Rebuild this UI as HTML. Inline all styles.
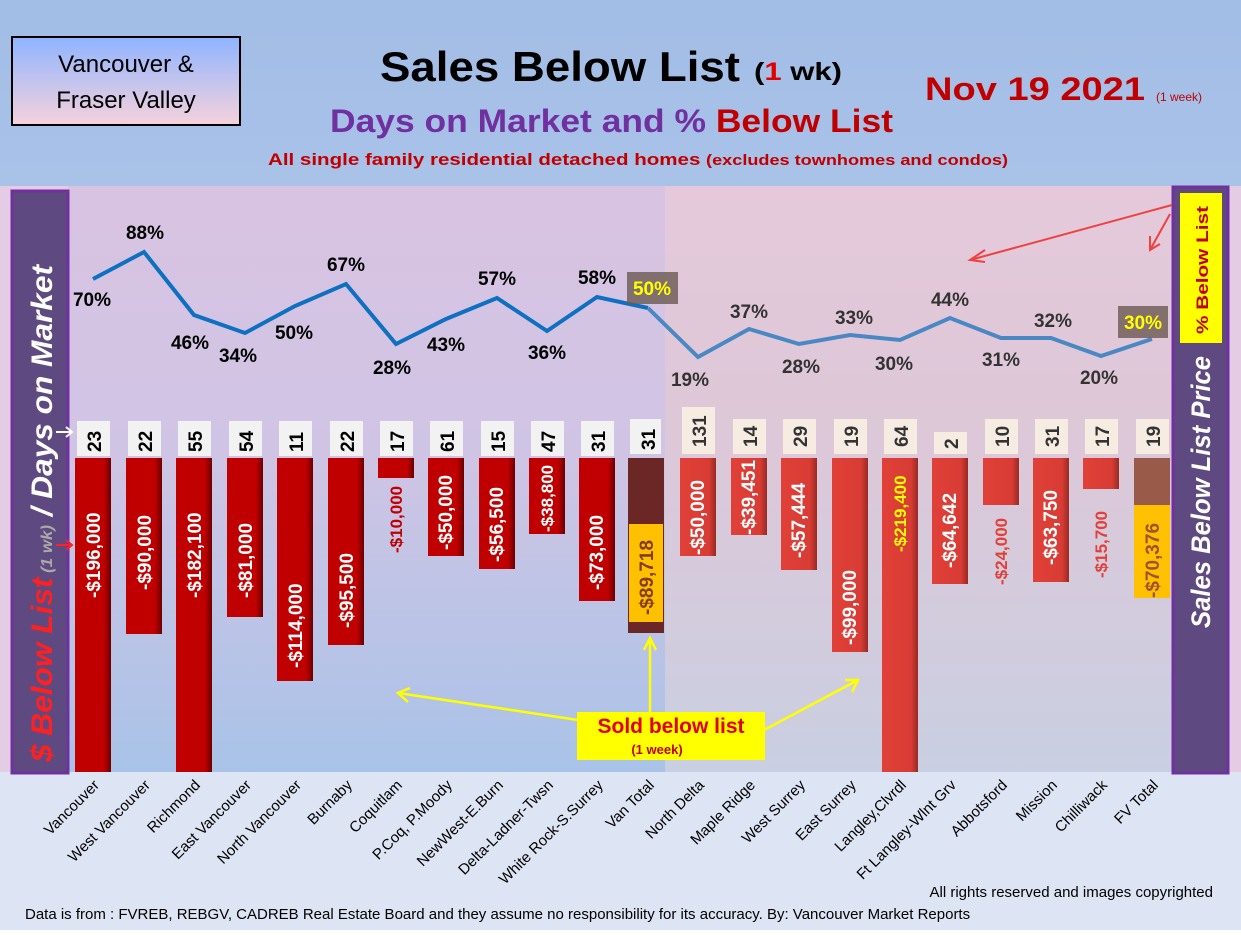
<!DOCTYPE html>
<html><head><meta charset="utf-8"><style>
body{margin:0;width:1241px;height:930px;overflow:hidden;font-family:"Liberation Sans",sans-serif}
</style></head><body>
<svg width="1241" height="930" viewBox="0 0 1241 930" xmlns="http://www.w3.org/2000/svg" font-family="Liberation Sans, sans-serif">
<defs>
<linearGradient id="hdr" x1="0" y1="0" x2="0" y2="1"><stop offset="0" stop-color="#a2bde6"/><stop offset="1" stop-color="#a9c2e8"/></linearGradient>
<linearGradient id="lp" x1="0" y1="0" x2="0" y2="1"><stop offset="0" stop-color="#d9c3e2"/><stop offset="0.45" stop-color="#d0c4e4"/><stop offset="1" stop-color="#a9c3e8"/></linearGradient>
<linearGradient id="rp" x1="0" y1="0" x2="0" y2="1"><stop offset="0" stop-color="#e5c9da"/><stop offset="0.45" stop-color="#dcc8d8"/><stop offset="1" stop-color="#c9cfe2"/></linearGradient>
<linearGradient id="box" x1="0" y1="0" x2="0" y2="1"><stop offset="0" stop-color="#8fb4ff"/><stop offset="1" stop-color="#f6d2dc"/></linearGradient>
<linearGradient id="bv" x1="0" y1="0" x2="1" y2="0"><stop offset="0" stop-color="#c00000"/><stop offset="0.8" stop-color="#c00000"/><stop offset="1" stop-color="#6a0000"/></linearGradient>
<linearGradient id="bf" x1="0" y1="0" x2="1" y2="0"><stop offset="0" stop-color="#e04038"/><stop offset="0.8" stop-color="#d83c34"/><stop offset="1" stop-color="#9a2a24"/></linearGradient>
</defs>
<rect width="1241" height="930" fill="#dde4f3"/>
<rect width="1241" height="186" fill="url(#hdr)"/>
<rect x="0" y="186" width="1241" height="588" fill="#e4cce4"/>
<rect x="68" y="186" width="597" height="586" fill="url(#lp)"/>
<rect x="665" y="186" width="507" height="586" fill="url(#rp)"/>
<rect x="0" y="772" width="1241" height="158" fill="#dde4f3"/>
<rect x="12" y="37" width="228" height="88" fill="url(#box)" stroke="#000" stroke-width="2"/>
<text x="126" y="72" font-size="24" text-anchor="middle">Vancouver &amp;</text>
<text x="126" y="108" font-size="24" text-anchor="middle">Fraser Valley</text>
<text x="380" y="81" font-size="42" font-weight="bold" textLength="360" lengthAdjust="spacingAndGlyphs">Sales Below List</text>
<text x="754" y="80" font-size="25" font-weight="bold" textLength="88" lengthAdjust="spacingAndGlyphs">(<tspan fill="#e00000">1</tspan> wk)</text>
<text x="330" y="132" font-size="32" font-weight="bold" fill="#7030a0" textLength="563" lengthAdjust="spacingAndGlyphs">Days on Market and % <tspan fill="#c00000">Below List</tspan></text>
<text x="268" y="165" font-size="17" font-weight="bold" fill="#c00000" textLength="740" lengthAdjust="spacingAndGlyphs">All single family residential detached homes <tspan font-size="15">(excludes townhomes and condos)</tspan></text>
<text x="925" y="100" font-size="32" font-weight="bold" fill="#c00000" textLength="220" lengthAdjust="spacingAndGlyphs">Nov 19  2021</text>
<text x="1156" y="101" font-size="12" fill="#c00000">(1 week)</text>
<rect x="12" y="191" width="56" height="582" fill="#5e4a80" stroke="#7030a0" stroke-width="3"/>
<rect x="1173" y="187" width="55" height="586" fill="#5e4a80" stroke="#7030a0" stroke-width="3"/>
<text transform="translate(52,762) rotate(-90)" font-size="30" font-weight="bold" font-style="italic" fill="#fff" textLength="497" lengthAdjust="spacingAndGlyphs"><tspan fill="#ff2020">$ Below List</tspan><tspan font-size="16" fill="#aaa"> (1 wk)</tspan> / Days on Market</text>
<text transform="translate(1210,628) rotate(-90)" font-size="27" font-weight="bold" font-style="italic" fill="#fff" textLength="272" lengthAdjust="spacingAndGlyphs">Sales Below List Price</text>
<rect x="1180" y="193" width="42" height="150" fill="#ffff00"/>
<text transform="translate(1208,334) rotate(-90)" font-size="17" font-weight="bold" fill="#c00000" textLength="128" lengthAdjust="spacingAndGlyphs">% Below List</text>
<g stroke="#f04040" stroke-width="2" fill="none">
<line x1="1172" y1="205" x2="970" y2="260"/><polyline points="985,250 970,260 985,262"/>
<line x1="1170" y1="214" x2="1150" y2="250"/><polyline points="1150,236 1150,250 1160,244"/>
</g>
<g stroke="#fff" stroke-width="2" fill="none"><line x1="56" y1="432" x2="72" y2="432"/><polyline points="66,427 72,432 66,437"/></g>
<g stroke="#ff2020" stroke-width="2" fill="none"><line x1="56" y1="545" x2="72" y2="545"/><polyline points="66,540 72,545 66,550"/></g>
<g fill="url(#bv)">
<rect x="75" y="458" width="36" height="314"/><rect x="126" y="458" width="36" height="176"/>
<rect x="176" y="458" width="36" height="314"/><rect x="227" y="458" width="36" height="159"/>
<rect x="277" y="458" width="36" height="223"/><rect x="328" y="458" width="36" height="187"/>
<rect x="378" y="458" width="36" height="20"/><rect x="428" y="458" width="36" height="98"/>
<rect x="479" y="458" width="36" height="111"/><rect x="529" y="458" width="36" height="76"/>
<rect x="579" y="458" width="36" height="143"/>
</g>
<rect x="628" y="458" width="36" height="175" fill="#6b2626"/>
<rect x="629" y="524" width="34" height="98" fill="#ffc000"/>
<g fill="url(#bf)">
<rect x="680" y="458" width="36" height="98"/><rect x="731" y="458" width="36" height="77"/>
<rect x="781" y="458" width="36" height="112"/><rect x="832" y="458" width="36" height="194"/>
<rect x="882" y="458" width="36" height="314"/><rect x="932" y="458" width="36" height="126"/>
<rect x="983" y="458" width="36" height="47"/><rect x="1033" y="458" width="36" height="124"/>
<rect x="1083" y="458" width="36" height="31"/>
</g>
<rect x="1134" y="458" width="36" height="140" fill="#9a5a4a"/>
<rect x="1134" y="505" width="36" height="93" fill="#ffc000"/>
<g font-size="19" font-weight="bold" fill="#fff">
<text transform="translate(100,598) rotate(-90)">-$196,000</text>
<text transform="translate(151,590) rotate(-90)">-$90,000</text>
<text transform="translate(201,598) rotate(-90)">-$182,100</text>
<text transform="translate(252,598) rotate(-90)">-$81,000</text>
<text transform="translate(302,668) rotate(-90)">-$114,000</text>
<text transform="translate(353,628) rotate(-90)">-$95,500</text>
<text transform="translate(452,550) rotate(-90)">-$50,000</text>
<text transform="translate(503,562) rotate(-90)">-$56,500</text>
<text transform="translate(553,532) rotate(-90)" font-size="17">-$38,800</text>
<text transform="translate(603,590) rotate(-90)">-$73,000</text>
<text transform="translate(704,555) rotate(-90)">-$50,000</text>
<text transform="translate(755,535) rotate(-90)">-$39,451</text>
<text transform="translate(805,558) rotate(-90)">-$57,444</text>
<text transform="translate(856,645) rotate(-90)">-$99,000</text>
<text transform="translate(956,568) rotate(-90)">-$64,642</text>
<text transform="translate(1057,565) rotate(-90)">-$63,750</text>
</g>
<g font-size="17" font-weight="bold">
<text transform="translate(402,553) rotate(-90)" fill="#c00000">-$10,000</text>
<text transform="translate(653,615) rotate(-90)" fill="#843c0c" font-size="19">-$89,718</text>
<text transform="translate(906,552) rotate(-90)" fill="#ffff00">-$219,400</text>
<text transform="translate(1007,585) rotate(-90)" fill="#e04038">-$24,000</text>
<text transform="translate(1107,578) rotate(-90)" fill="#e04038">-$15,700</text>
<text transform="translate(1159,598) rotate(-90)" fill="#a0522d" font-size="19">-$70,376</text>
</g>
<g fill="#f2f2f2">
<rect x="77" y="421" width="33" height="35"/><rect x="128" y="421" width="33" height="35"/><rect x="178" y="421" width="33" height="35"/><rect x="229" y="421" width="33" height="35"/><rect x="279" y="421" width="33" height="35"/><rect x="330" y="421" width="33" height="35"/><rect x="380" y="421" width="33" height="35"/><rect x="430" y="421" width="33" height="35"/><rect x="481" y="421" width="33" height="35"/><rect x="531" y="421" width="33" height="35"/><rect x="581" y="421" width="33" height="35"/><rect x="630" y="419" width="31" height="35"/>
</g>
<g fill="#f7ece2">
<rect x="682" y="407" width="33" height="47"/><rect x="733" y="419" width="33" height="35"/><rect x="783" y="419" width="33" height="35"/><rect x="834" y="419" width="33" height="35"/><rect x="884" y="419" width="33" height="35"/><rect x="934" y="432" width="33" height="22"/><rect x="985" y="419" width="33" height="35"/><rect x="1035" y="419" width="33" height="35"/><rect x="1085" y="419" width="33" height="35"/><rect x="1136" y="419" width="33" height="35"/>
</g>
<g font-size="19" font-weight="bold" fill="#000">
<text transform="translate(101,452) rotate(-90)">23</text><text transform="translate(152,452) rotate(-90)">22</text><text transform="translate(202,452) rotate(-90)">55</text><text transform="translate(253,452) rotate(-90)">54</text><text transform="translate(303,452) rotate(-90)">11</text><text transform="translate(354,452) rotate(-90)">22</text><text transform="translate(404,452) rotate(-90)">17</text><text transform="translate(454,452) rotate(-90)">61</text><text transform="translate(505,452) rotate(-90)">15</text><text transform="translate(555,452) rotate(-90)">47</text><text transform="translate(605,452) rotate(-90)">31</text><text transform="translate(655,450) rotate(-90)">31</text>
</g>
<g font-size="19" font-weight="bold" fill="#333">
<text transform="translate(706,447) rotate(-90)">131</text><text transform="translate(757,447) rotate(-90)">14</text><text transform="translate(807,447) rotate(-90)">29</text><text transform="translate(858,447) rotate(-90)">19</text><text transform="translate(908,447) rotate(-90)">64</text><text transform="translate(958,449) rotate(-90)">2</text><text transform="translate(1009,447) rotate(-90)">10</text><text transform="translate(1059,447) rotate(-90)">31</text><text transform="translate(1109,447) rotate(-90)">17</text><text transform="translate(1160,447) rotate(-90)">19</text>
</g>
<polyline fill="none" stroke="#0e70c0" stroke-width="4" points="93,279 144,252 194,315 245,333 295,306 346,284 396,344 446,319 497,298 547,331 597,297 648,308"/>
<polyline fill="none" stroke="#4a88c4" stroke-width="4" points="648,308 698,357 749,329 799,344 850,335 900,340 950,318 1001,338 1051,338 1101,356 1152,339"/>
<g font-size="19" font-weight="bold" fill="#000" text-anchor="middle">
<text x="92" y="306">70%</text><text x="145" y="239">88%</text><text x="190" y="349">46%</text><text x="238" y="362">34%</text><text x="294" y="339">50%</text><text x="346" y="271">67%</text><text x="392" y="374">28%</text><text x="446" y="351">43%</text><text x="497" y="285">57%</text><text x="547" y="359">36%</text><text x="597" y="284">58%</text>
</g>
<rect x="627" y="272" width="51" height="32" fill="#6b5a52" opacity="0.8"/>
<text x="652" y="295" font-size="19" font-weight="bold" fill="#ffff00" text-anchor="middle">50%</text>
<g font-size="19" font-weight="bold" fill="#333" text-anchor="middle">
<text x="690" y="386">19%</text><text x="749" y="318">37%</text><text x="801" y="373">28%</text><text x="854" y="324">33%</text><text x="894" y="370">30%</text><text x="950" y="306">44%</text><text x="1001" y="366">31%</text><text x="1053" y="327">32%</text><text x="1099" y="384">20%</text>
</g>
<rect x="1118" y="306" width="50" height="32" fill="#6b5a52" opacity="0.8"/>
<text x="1143" y="329" font-size="19" font-weight="bold" fill="#ffff00" text-anchor="middle">30%</text>
<g stroke="#ffff00" stroke-width="2.5" fill="none">
<line x1="578" y1="720" x2="398" y2="693"/><polyline points="410,688 398,693 408,702"/>
<line x1="764" y1="730" x2="858" y2="680"/><polyline points="845,680 858,680 852,692"/>
<line x1="650" y1="712" x2="650" y2="638"/><polyline points="644,650 650,638 656,650"/>
</g>
<rect x="577" y="712" width="188" height="48" fill="#ffff00"/>
<text x="671" y="733" font-size="21" font-weight="bold" fill="#e00000" text-anchor="middle">Sold below list</text>
<text x="657" y="754" font-size="13" font-weight="bold" fill="#c00000" text-anchor="middle">(1 week)</text>
<g font-size="15" fill="#000" text-anchor="end">
<text transform="translate(100,786) rotate(-45)">Vancouver</text>
<text transform="translate(151,786) rotate(-45)">West Vancouver</text>
<text transform="translate(201,786) rotate(-45)">Richmond</text>
<text transform="translate(252,786) rotate(-45)">East Vancouver</text>
<text transform="translate(302,786) rotate(-45)">North Vancouver</text>
<text transform="translate(353,786) rotate(-45)">Burnaby</text>
<text transform="translate(403,786) rotate(-45)">Coquitlam</text>
<text transform="translate(453,786) rotate(-45)">P.Coq, P.Moody</text>
<text transform="translate(504,786) rotate(-45)">NewWest-E.Burn</text>
<text transform="translate(554,786) rotate(-45)">Delta-Ladner-Twsn</text>
<text transform="translate(604,786) rotate(-45)">White Rock-S.Surrey</text>
<text transform="translate(655,786) rotate(-45)">Van Total</text>
<text transform="translate(705,786) rotate(-45)">North Delta</text>
<text transform="translate(756,786) rotate(-45)">Maple Ridge</text>
<text transform="translate(806,786) rotate(-45)">West Surrey</text>
<text transform="translate(857,786) rotate(-45)">East Surrey</text>
<text transform="translate(907,786) rotate(-45)">Langley,Clvrdl</text>
<text transform="translate(957,786) rotate(-45)">Ft Langley-Wlnt Grv</text>
<text transform="translate(1008,786) rotate(-45)">Abbotsford</text>
<text transform="translate(1058,786) rotate(-45)">Mission</text>
<text transform="translate(1108,786) rotate(-45)">Chilliwack</text>
<text transform="translate(1159,786) rotate(-45)">FV Total</text>
</g>
<text x="1213" y="897" font-size="15" text-anchor="end">All rights reserved and  images copyrighted</text>
<text x="25" y="919" font-size="15">Data is from : FVREB, REBGV, CADREB Real Estate Board and they assume no responsibility for its accuracy. By: Vancouver Market Reports</text>
</svg>
</body></html>
